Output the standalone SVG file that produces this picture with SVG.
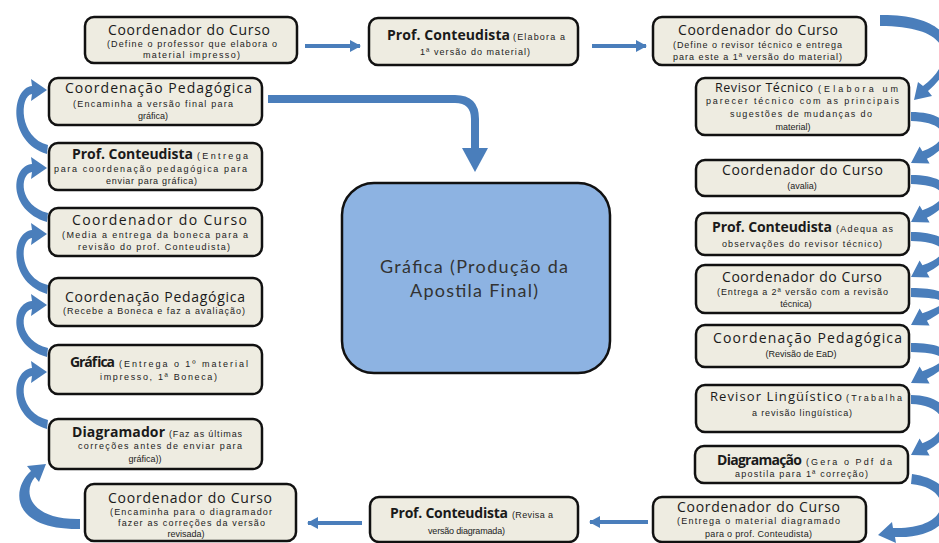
<svg xmlns="http://www.w3.org/2000/svg" width="939" height="543" viewBox="0 0 939 543">
<style>
.box{fill:#EEECE1;stroke:#111;stroke-width:2.5}
.t{font-family:"Open Sans","Liberation Sans",sans-serif;font-size:14px;fill:#1a1a1a}
.tb{font-family:"Open Sans","Liberation Sans",sans-serif;font-size:14px;font-weight:bold;fill:#1a1a1a}
.s{font-family:"Liberation Sans","Open Sans",sans-serif;font-size:9px;fill:#222}
.c{text-anchor:middle}
.ca{fill:#4A7EBB}
.ln{stroke:#4A7EBB;stroke-width:4;fill:none}
.ctr{font-family:"Lato","Open Sans",sans-serif;font-size:18px;fill:#333}
</style>
<defs>
<marker id="ah" markerUnits="userSpaceOnUse" markerWidth="11" markerHeight="12" refX="10" refY="6" orient="auto">
<path d="M0,0 L11,6 L0,12 Z" fill="#4A7EBB"/>
</marker>
</defs>
<rect width="939" height="543" fill="#ffffff"/>

<g id="connectors">
<line class="ln" x1="305" y1="46" x2="360" y2="46" marker-end="url(#ah)"/>
<line class="ln" x1="592" y1="46" x2="646" y2="46" marker-end="url(#ah)"/>
<line class="ln" x1="362" y1="523" x2="308" y2="523" marker-end="url(#ah)"/>
<line class="ln" x1="648" y1="522" x2="590" y2="522" marker-end="url(#ah)"/>
<path d="M268,99 H455 Q475,99 475,119 V149" style="stroke:#4A7EBB;stroke-width:8;fill:none"/>
<polygon class="ca" points="462,148 488,148 475,172"/>
<path class="ca" d="M47,90 L31,79 L32,86 C11,88 7,142 47,154 L48,145 C19,138 19,96 32,94 L31,101 Z"/>
<path class="ca" d="M47,168 L31,157 L32,164 C11,166 7,210 47,222 L48,213 C19,206 19,174 32,172 L31,179 Z"/>
<path class="ca" d="M47,234 L31,223 L32,230 C11,232 7,282 47,294 L48,285 C19,278 19,240 32,238 L31,245 Z"/>
<path class="ca" d="M47,305 L31,294 L32,301 C11,303 7,345 47,357 L48,348 C19,341 19,311 32,309 L31,316 Z"/>
<path class="ca" d="M47,372 L31,361 L32,368 C11,370 7,417 47,429 L48,420 C19,413 19,378 32,376 L31,383 Z"/>
<path class="ca" d="M46,464 L27,466 L31,471 C10,490 12,530 80,529 L80,519 C30,520 22,492 35,477 L39,482 Z"/>
<path class="ca" d="M914,100 L932,96 L928,91 C965,60 960,14 880,15 L880,26 C955,26 955,62 923,86 L918,82 Z"/>
<path class="ca" d="M911,163 L929.6,163.5 L926.9,158.8 C961,141 956,112 911,112 L911,121 C949,122 951,141 922.4,151.2 L919.6,146.5 Z"/>
<path class="ca" d="M911,222 L929.6,222.5 L926.9,217.8 C961,200 956,175 911,175 L911,184 C949,185 951,200 922.4,210.2 L919.6,205.5 Z"/>
<path class="ca" d="M911,277 L929.6,277.5 L926.9,272.8 C961,255 956,232 911,232 L911,241 C949,242 951,255 922.4,265.2 L919.6,260.5 Z"/>
<path class="ca" d="M911,325 L929.6,325.5 L926.9,320.8 C961,303 956,288 911,288 L911,297 C949,298 951,303 922.4,313.2 L919.6,308.5 Z"/>
<path class="ca" d="M911,383 L929.6,383.5 L926.9,378.8 C961,361 956,343 911,343 L911,352 C949,353 951,361 922.4,371.2 L919.6,366.5 Z"/>
<path class="ca" d="M911,455 L929.6,455.5 L926.9,450.8 C961,433 956,395 911,395 L911,404 C949,405 951,433 922.4,443.2 L919.6,438.5 Z"/>
<path class="ca" d="M878,535 L896,543 L895,537 C960,540 970,482 912,474 L911,484 C955,488 952,530 893,528 L892,522 Z"/>
</g>

<g id="grafica-final">
<rect x="342" y="183" width="268" height="190" rx="32" fill="#8DB3E2" stroke="#111" stroke-width="2.5"/>
<text class="ctr" x="380" y="273" textLength="188">Gráfica (Produção da</text>
<text class="ctr" x="410" y="297" textLength="128">Apostila Final)</text>
</g>

<g id="top-coord1">
<rect class="box" x="85" y="17" width="212" height="46" rx="9"/>
<text class="t" x="108" y="35" textLength="162">Coordenador do Curso</text>
<text class="s" x="107" y="47" textLength="170">(Define o professor que elabora o</text>
<text class="s" x="143" y="58" textLength="97">material impresso)</text>
</g>

<g id="top-prof">
<rect class="box" x="369" y="18" width="209" height="47" rx="9"/>
<text class="tb" x="387" y="40" textLength="123">Prof. Conteudista</text>
<text class="s" x="513" y="40" textLength="52">(Elabora a</text>
<text class="s" x="420" y="55" textLength="110">1ª versão do material)</text>
</g>

<g id="top-coord2">
<rect class="box" x="653" y="17" width="213" height="48" rx="9"/>
<text class="t" x="678" y="35" textLength="160">Coordenador do Curso</text>
<text class="s" x="673" y="48" textLength="169">(Define o revisor técnico e entrega</text>
<text class="s" x="673" y="60" textLength="169">para este a 1ª versão do material)</text>
</g>

<g id="left-coordped1">
<rect class="box" x="49" y="78" width="213" height="47" rx="9"/>
<text class="t" x="65" y="93" textLength="187">Coordenação Pedagógica</text>
<text class="s" x="73" y="107" textLength="160">(Encaminha a versão final para</text>
<text class="s c" x="153" y="119">gráfica)</text>
</g>

<g id="left-prof">
<rect class="box" x="49" y="143" width="213" height="47" rx="9"/>
<text class="tb" x="72" y="159" textLength="121">Prof. Conteudista</text>
<text class="s" x="197" y="159" textLength="51">(Entrega</text>
<text class="s" x="54" y="172" textLength="193">para coordenação pedagógica para</text>
<text class="s" x="106" y="184" textLength="91">enviar para gráfica)</text>
</g>

<g id="left-coord">
<rect class="box" x="49" y="208" width="213" height="48" rx="9"/>
<text class="t" x="72" y="225" textLength="175">Coordenador do Curso</text>
<text class="s" x="62" y="238" textLength="186">(Media a entrega da boneca para a</text>
<text class="s" x="78" y="250" textLength="152">revisão do prof. Conteudista)</text>
</g>

<g id="left-coordped2">
<rect class="box" x="49" y="278" width="213" height="48" rx="9"/>
<text class="t" x="65" y="302" textLength="180">Coordenação Pedagógica</text>
<text class="s" x="63" y="314" textLength="182">(Recebe a Boneca e faz a avaliação)</text>
</g>

<g id="left-grafica">
<rect class="box" x="49" y="345" width="213" height="49" rx="9"/>
<text class="tb" x="70" y="367" textLength="45">Gráfica</text>
<text class="s" x="119" y="367" textLength="129">(Entrega o 1º material</text>
<text class="s" x="100" y="380" textLength="117">impresso, 1ª Boneca)</text>
</g>

<g id="left-diagramador">
<rect class="box" x="49" y="419" width="213" height="50" rx="9"/>
<text class="tb" x="72" y="437" textLength="93">Diagramador</text>
<text class="s" x="169" y="437" textLength="73">(Faz as últimas</text>
<text class="s" x="78" y="449" textLength="164">correções antes de enviar para</text>
<text class="s c" x="145" y="462">gráfica))</text>
</g>

<g id="bottom-coord1">
<rect class="box" x="85" y="484" width="211" height="57" rx="9"/>
<text class="t" x="108" y="503" textLength="164">Coordenador do Curso</text>
<text class="s" x="110" y="515" textLength="162">(Encaminha para o diagramador</text>
<text class="s" x="118" y="526" textLength="147">fazer as correções da versão</text>
<text class="s c" x="186" y="537">revisada)</text>
</g>

<g id="bottom-prof">
<rect class="box" x="370" y="497" width="208" height="45" rx="9"/>
<text class="tb" x="390" y="518" textLength="118">Prof. Conteudista</text>
<text class="s" x="512" y="518" textLength="41">(Revisa a</text>
<text class="s" x="428" y="534" textLength="77">versão diagramada)</text>
</g>

<g id="bottom-coord2">
<rect class="box" x="653" y="497" width="213" height="45" rx="9"/>
<text class="t" x="677" y="512" textLength="163">Coordenador do Curso</text>
<text class="s" x="677" y="524" textLength="163">(Entrega o material diagramado</text>
<text class="s" x="705" y="537" textLength="107">para o prof. Conteudista)</text>
</g>

<g id="right-revtec">
<rect class="box" x="696" y="78" width="213" height="57" rx="9"/>
<text class="t" x="715" y="92" textLength="98" style="font-size:12.5px">Revisor Técnico</text>
<text class="s" x="818" y="92" textLength="80">(Elabora um</text>
<text class="s" x="706" y="104" textLength="193">parecer técnico com as principais</text>
<text class="s" x="730" y="117" textLength="142">sugestões de mudanças do</text>
<text class="s c" x="793" y="130">material)</text>
</g>

<g id="right-coord1">
<rect class="box" x="696" y="160" width="213" height="36" rx="9"/>
<text class="t" x="722" y="175" textLength="161">Coordenador do Curso</text>
<text class="s c" x="802" y="189">(avalia)</text>
</g>

<g id="right-prof">
<rect class="box" x="696" y="213" width="213" height="42" rx="9"/>
<text class="tb" x="712" y="232" textLength="120">Prof. Conteudista</text>
<text class="s" x="836" y="232" textLength="57">(Adequa as</text>
<text class="s" x="722" y="247" textLength="160">observações do revisor técnico)</text>
</g>

<g id="right-coord2">
<rect class="box" x="696" y="265" width="213" height="48" rx="9"/>
<text class="t" x="722" y="282" textLength="160">Coordenador do Curso</text>
<text class="s" x="717" y="295" textLength="171">(Entrega a 2ª versão com a revisão</text>
<text class="s c" x="796" y="307">técnica)</text>
</g>

<g id="right-coordped">
<rect class="box" x="696" y="325" width="213" height="42" rx="9"/>
<text class="t" x="713" y="343" textLength="189">Coordenação Pedagógica</text>
<text class="s c" x="801" y="357">(Revisão de EaD)</text>
</g>

<g id="right-revling">
<rect class="box" x="696" y="385" width="213" height="47" rx="9"/>
<text class="t" x="710" y="401" textLength="132" style="font-size:13px">Revisor Lingüístico</text>
<text class="s" x="846" y="401" textLength="56">(Trabalha</text>
<text class="s" x="752" y="416" textLength="100">a revisão lingüística)</text>
</g>

<g id="right-diagramacao">
<rect class="box" x="695" y="446" width="213" height="37" rx="9"/>
<text class="tb" x="717" y="465" textLength="85">Diagramação</text>
<text class="s" x="806" y="465" textLength="86">(Gera o Pdf da</text>
<text class="s" x="735" y="477" textLength="133">apostila para 1ª correção)</text>
</g>
</svg>
